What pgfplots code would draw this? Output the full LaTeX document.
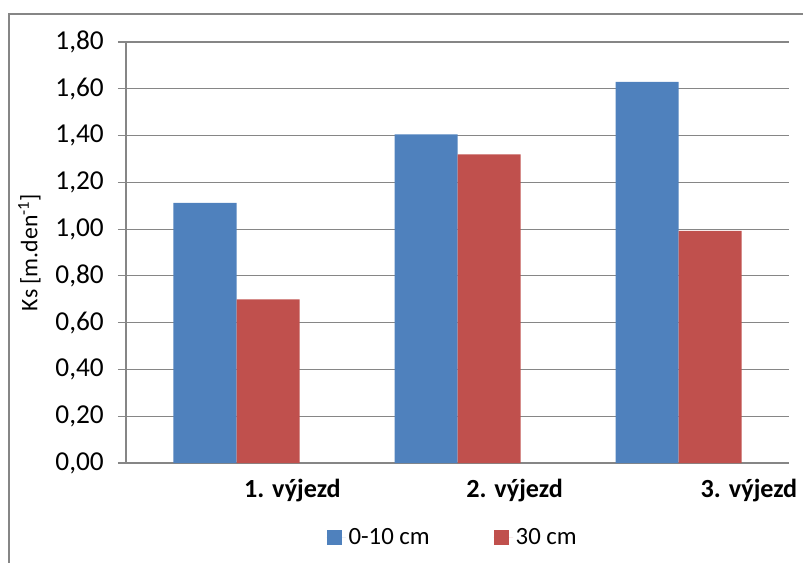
\documentclass[border=0pt]{standalone}
\usepackage{pgfplots}
\pgfplotsset{compat=1.18}
\usepackage{fontspec}
\setmainfont{Carlito}
\definecolor{cblue}{HTML}{4F81BD}
\definecolor{cred}{HTML}{C0504D}
\definecolor{cgrid}{HTML}{868686}
\begin{document}
\fontsize{17.8pt}{21pt}\selectfont
\begin{tikzpicture}
\path[use as bounding box] (0,0) rectangle (602.25pt,421.5pt);
\draw[cgrid,line width=0.9pt] (6.75pt,-5pt) -- (6.75pt,411pt) -- (610pt,411pt);
\begin{axis}[
  scale only axis,
  anchor=south west,
  at={(94.5pt,74.25pt)},
  width=497.25pt, height=315.75pt,
  xmin=-0.5, xmax=2.5,
  ymin=0, ymax=1.8,
  ytick={0,0.2,...,1.8},
  yticklabel style={xshift=-4.5pt, font=\fontsize{20.5pt}{24pt}\selectfont, /pgf/number format/.cd, fixed, fixed zerofill, precision=2, use comma, assume math mode=true},
  xtick={0.253,1.258,2.319},
  xticklabels={1. výjezd,2. výjezd,3. výjezd},
  xticklabel style={font=\fontsize{19.6pt}{23pt}\selectfont\bfseries},
  major x tick style={draw=none},
  ymajorgrids,
  grid style={cgrid,line width=0.9pt},
  axis x line*=bottom,
  axis y line*=left,
  axis line style={cgrid,line width=0.9pt,-},
  y tick style={cgrid,line width=0.9pt},
  tick align=outside,
  major tick length=6pt,
  ylabel={Ks [m.den\textsuperscript{-1}]},
  ylabel style={at={(axis description cs:0,0.5)}, anchor=south, yshift=58pt, font=\fontsize{17.8pt}{21pt}\selectfont},
  ybar=0pt,
  bar width=47.25pt,
  legend style={at={(axis description cs:0.4932,-0.178)}, anchor=center, draw=none, fill=none,
    font=\fontsize{18.6pt}{22pt}\selectfont,
    legend columns=2, /tikz/every even column/.append style={column sep=46pt},
    cells={anchor=west}},
  legend image code/.code={\fill[#1] (0pt,-5.6pt) rectangle (11.25pt,5.6pt); \path (0pt,0pt) -- (14.5pt,0pt);},
]
\addplot[fill=cblue, draw=none] coordinates {(0,1.112) (1,1.405) (2,1.630)};
\addplot[fill=cred, draw=none] coordinates {(0,0.700) (1,1.320) (2,0.993)};
\legend{0-10 cm,30 cm}
\end{axis}
\end{tikzpicture}
\end{document}
